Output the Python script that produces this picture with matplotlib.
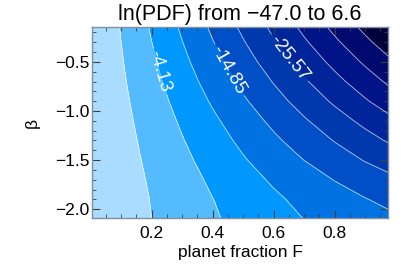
#!/usr/bin/env python3
# -*- coding: utf-8 -*-
"""
ln(PDF) map over planet fraction F and beta, filled contours with labels.
"""
import matplotlib
matplotlib.use('Agg')
import matplotlib.pyplot as plt
from matplotlib.colors import ListedColormap
from matplotlib.ticker import MultipleLocator
import numpy as np

plt.rcParams['font.family'] = ['Liberation Sans', 'DejaVu Sans']

#### data ####
planet_frac = [0.0, 0.1, 0.2, 0.3, 0.4, 0.5, 0.6, 0.7, 0.8, 0.9, 1.0]
beta = [-2.1, -1.9, -1.7, -1.5, -1.3, -1.1, -0.9, -0.7, -0.5, -0.3, -0.1]
# ln(PDF), one row per beta value
ln_pdf = [
    [6.6, 3.85, 1.24, -1.22, -3.52, -5.68, -7.68, -9.54, -11.24, -12.80, -14.2],
    [6.6, 3.76, 1.04, -1.56, -4.04, -6.40, -8.64, -10.76, -12.76, -14.64, -16.4],
    [6.6, 3.59, 0.66, -2.18, -4.92, -7.58, -10.14, -12.62, -15.00, -17.30, -19.5],
    [6.6, 3.35, 0.16, -2.97, -6.04, -9.05, -12.00, -14.89, -17.72, -20.49, -23.2],
    [6.6, 3.08, -0.40, -3.84, -7.24, -10.60, -13.92, -17.20, -20.44, -23.64, -26.8],
    [6.6, 2.77, -1.03, -4.80, -8.55, -12.28, -15.97, -19.64, -23.29, -26.91, -30.5],
    [6.6, 2.41, -1.76, -5.91, -10.04, -14.15, -18.24, -22.31, -26.36, -30.39, -34.4],
    [6.6, 2.03, -2.52, -7.04, -11.54, -16.03, -20.48, -24.92, -29.34, -33.73, -38.1],
    [6.6, 1.64, -3.29, -8.19, -13.07, -17.93, -22.75, -27.55, -32.33, -37.08, -41.8],
    [6.6, 1.26, -4.06, -9.35, -14.60, -19.83, -25.02, -30.19, -35.32, -40.43, -45.5],
    [6.6, 0.87, -4.83, -10.50, -16.13, -21.73, -27.29, -32.82, -38.31, -43.77, -49.2],
]
levels = [-47.01, -41.65, -36.29, -30.93, -25.57, -20.21, -14.85, -9.49, -4.13, 1.23, 6.59]
labelled = [-25.57, -14.85, -4.13]
label_pos = [(0.652, -0.46), (0.446, -0.60), (0.226, -0.60)]
band_colors = ['#00003c', '#000a6e', '#001488', '#00249a', '#0038ae',
               '#004fc6', '#0072e2', '#0098ff', '#55bbff', '#aadcff']

fig = plt.figure(figsize=(4.15, 2.77), dpi=100)
ax = fig.add_axes([92/415, 1-218/277, 296/415, 191/277])

cmap = ListedColormap(band_colors).with_extremes(under=band_colors[0], over=band_colors[-1])
ax.contourf(planet_frac, beta, ln_pdf, levels=levels, cmap=cmap,
            vmin=levels[0], vmax=levels[-1], extend='both')
plain = [lv for lv in levels[1:-1] if lv not in labelled]
line_kw = dict(colors=[(1, 1, 1, 0.75)], linewidths=0.55, linestyles='solid')
ax.contour(planet_frac, beta, ln_pdf, levels=plain, **line_kw)
cs = ax.contour(planet_frac, beta, ln_pdf, levels=labelled, **line_kw)
ax.clabel(cs, fmt='%.2f', fontsize=13.5, colors='white',
          manual=label_pos, inline=True, inline_spacing=2)

ax.set_xlim(0.005, 0.975)
ax.set_ylim(-2.09, -0.145)
ax.set_xticks([0.2, 0.4, 0.6, 0.8])
ax.set_yticks([-2.0, -1.5, -1.0, -0.5])
ax.xaxis.set_minor_locator(MultipleLocator(0.05))
ax.yaxis.set_minor_locator(MultipleLocator(0.1))
ax.tick_params(which='both', direction='in', top=True, right=True, color='#404040')
ax.tick_params(which='major', length=6, width=0.8, labelsize=12.5)
ax.tick_params(which='minor', length=3, width=0.6)
ax.tick_params(axis='x', pad=6)
ax.tick_params(axis='y', pad=2)
for sp in ax.spines.values():
    sp.set_color('#8090a0')
    sp.set_linewidth(1.0)

ax.set_title('ln(PDF) from \u221247.0 to 6.6', fontsize=15.5, pad=5)
ax.set_xlabel('planet fraction F', fontsize=12.5, labelpad=3)
ax.set_ylabel('\u03b2', fontsize=12.5, labelpad=11)

fig.savefig('out.png', dpi=100)
